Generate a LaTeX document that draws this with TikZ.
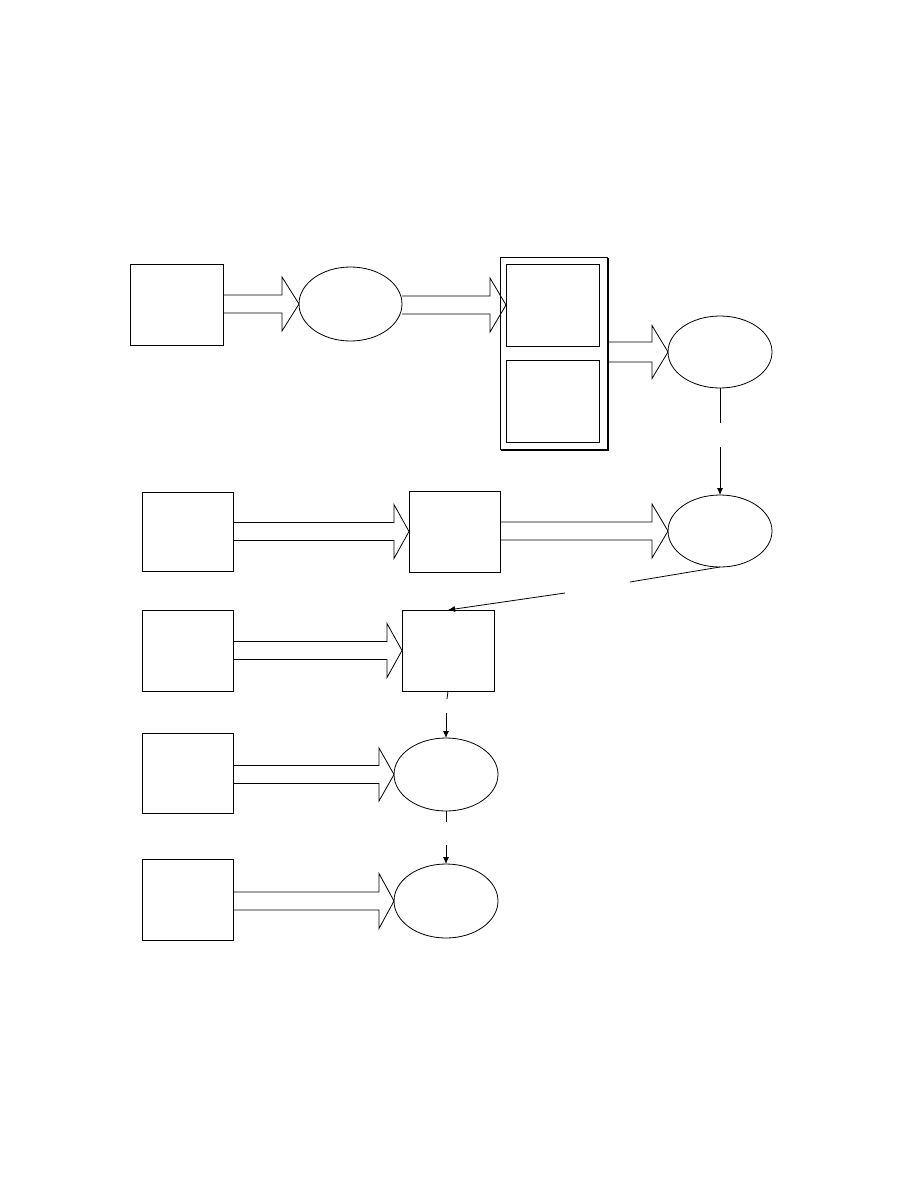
\documentclass[tikz,border=0pt]{standalone}
\usetikzlibrary{arrows.meta,calc,shapes.geometric}
\tikzset{
  boxnode/.style={draw=black,line width=0.8pt,rectangle,inner sep=0pt,outer sep=0pt},
  ellnode/.style={draw=black,line width=0.8pt,ellipse,inner sep=0pt,outer sep=0pt,minimum width=104pt},
  blockarrow/.style={draw=black,line width=0.8pt,line join=miter},
  thinline/.style={draw=black,line width=0.8pt},
  thinarrow/.style={draw=black,line width=0.8pt,-{Latex[length=7pt,width=6pt]}},
}
% block arrow from node #1 (east side) to node #2 (west anchor); #3 shaft half height, #4 head half height, #5 head length
\newcommand{\blockarr}[5]{%
  \path[blockarrow] let \p1=(#1.east), \p2=(#2.west) in
    (\x1,\y2+#3) -- (\x2-#5,\y2+#3) -- (\x2-#5,\y2+#4) -- (\x2,\y2)
    -- (\x2-#5,\y2-#4) -- (\x2-#5,\y2-#3) -- (\x1,\y2-#3);
}
\begin{document}
\begin{tikzpicture}[x=1pt,y=-1pt]
\useasboundingbox[fill=white] (0,0) rectangle (918,1188);

% row 1
\node[boxnode,minimum width=93pt,minimum height=81pt] (A) at (176.5,304.5) {};
\node[ellnode,minimum width=103pt,minimum height=74pt] (e1) at (350.5,304) {};
\node[boxnode,minimum width=107pt,minimum height=192pt] (cont) at (553.5,353) {};
\draw[line width=0.8pt] ($(cont.north east)+(1.4,1)$) -- ($(cont.south east)+(1.4,1.4)$) -- ($(cont.south west)+(1,1.4)$);
\node[boxnode,minimum width=93pt,minimum height=82pt] (in1) at (552.5,305) {};
\node[boxnode,minimum width=93pt,minimum height=82pt] (in2) at (552.5,401) {};
\node[ellnode,minimum height=72pt] (e2) at (720,352) {};

\blockarr{A}{e1}{9pt}{27pt}{17pt}
\blockarr{e1}{in1}{9pt}{27pt}{16pt}
\blockarr{cont}{e2}{10pt}{26.5pt}{16pt}

% row 2
\node[boxnode,minimum width=91pt,minimum height=79pt] (B) at (187.5,531.5) {};
\node[boxnode,minimum width=91pt,minimum height=81pt] (C) at (454.5,531.5) {};
\node[ellnode,minimum height=72pt] (e3) at (720,531) {};
\blockarr{B}{C}{9pt}{27pt}{15pt}
\blockarr{C}{e3}{9pt}{27pt}{16pt}

% row 3
\node[boxnode,minimum width=91pt,minimum height=81pt] (E) at (187.5,650.5) {};
\node[boxnode,minimum width=92pt,minimum height=81pt] (D) at (448,650.5) {};
\blockarr{E}{D}{9pt}{27pt}{15pt}

% row 4
\node[boxnode,minimum width=91pt,minimum height=80pt] (F) at (187.5,773) {};
\node[ellnode,minimum height=73pt] (e4) at (446,774.5) {};
\blockarr{F}{e4}{9pt}{26.5pt}{15pt}

% row 5
\node[boxnode,minimum width=91pt,minimum height=81pt] (G) at (187.5,899.5) {};
\node[ellnode,minimum height=74pt] (e5) at (446,901) {};
\blockarr{G}{e5}{9pt}{27.5pt}{15pt}

% thin connectors
\coordinate (g1a) at (720,423);
\coordinate (g1b) at (720,447);
\draw[thinline] (e2.south) -- (g1a);
\draw[thinarrow] (g1b) -- (e3.north);

\coordinate (g2a) at (630,582);
\coordinate (g2b) at (565,593);
\draw[thinline] (e3.south) -- (g2a);
\draw[thinarrow] (g2b) -- (D.north);

\coordinate (g3a) at (447,699);
\coordinate (g3b) at (446,713);
\draw[thinline] (D.south) -- (g3a);
\draw[thinarrow] (g3b) -- (e4.north);

\coordinate (g4a) at (446,822);
\coordinate (g4b) at (446,845);
\draw[thinline] (e4.south) -- (g4a);
\draw[thinarrow] (g4b) -- (e5.north);
\end{tikzpicture}
\end{document}
